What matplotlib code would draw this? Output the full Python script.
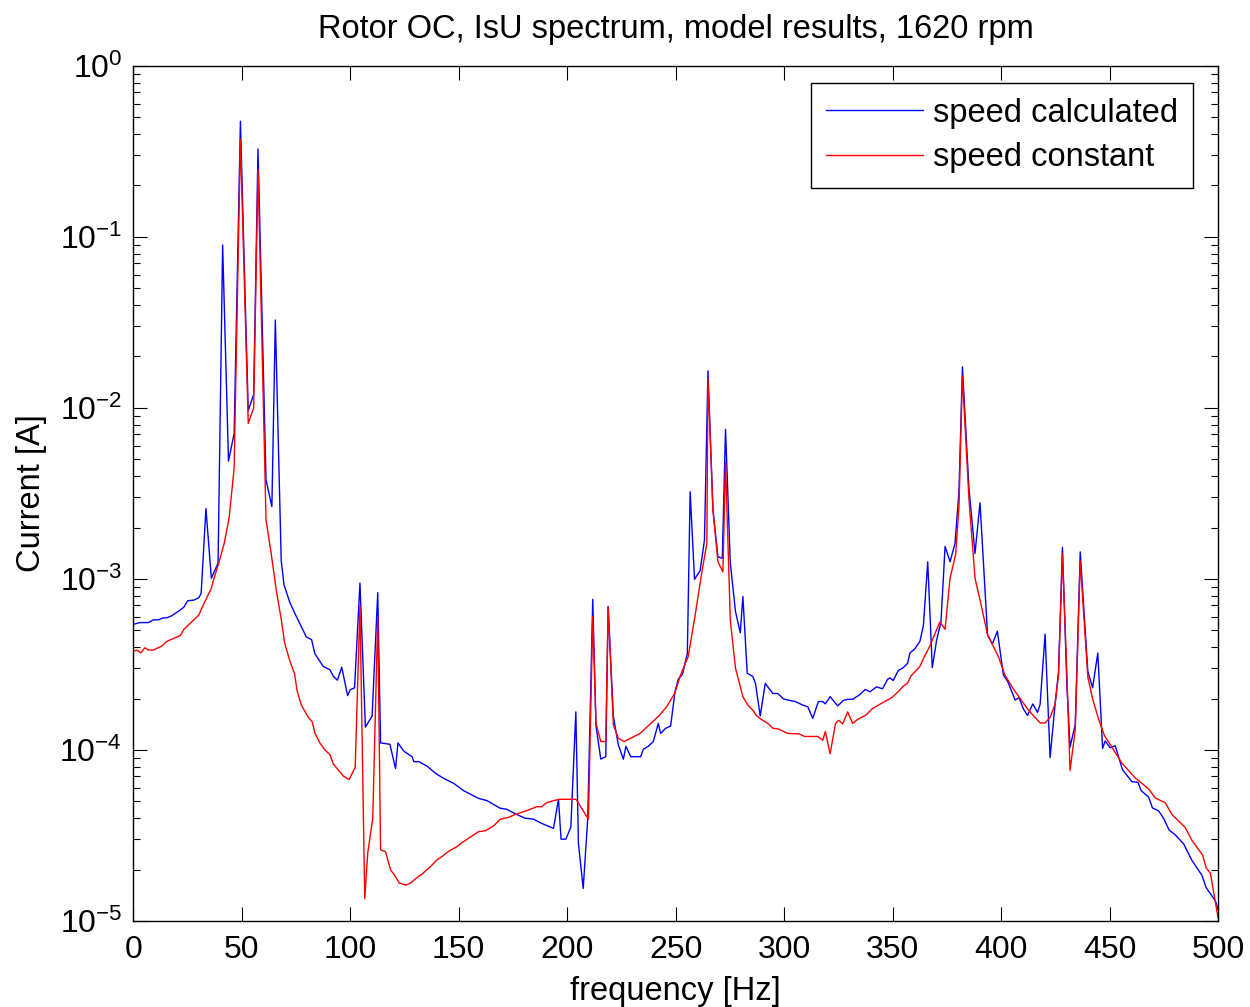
import numpy as np
import matplotlib
matplotlib.use("Agg")
import matplotlib.pyplot as plt
from matplotlib.ticker import LogLocator, FixedLocator

plt.rcParams['font.family'] = ['Liberation Sans', 'DejaVu Sans']
plt.rcParams['mathtext.fontset'] = 'custom'
plt.rcParams['mathtext.rm'] = 'Liberation Sans'
plt.rcParams['mathtext.it'] = 'Liberation Sans'
plt.rcParams['mathtext.bf'] = 'Liberation Sans'

# speed calculated (blue)
freq_calc = [0, 3.1, 7.0, 9.3, 11.6, 14.0, 15.5, 17.8, 21.7, 23.3, 25.1, 27.9, 30.2, 31.3,
             33.5, 36.0, 39.1, 41.2, 43.9, 46.5, 49.4, 53.0, 55.5, 57.5, 61.2, 63.9, 65.5,
             68.2, 69.5, 72.1, 74.4, 77.5, 79.8, 82.2, 83.7, 87.6, 90.7, 92.2, 94.1, 96.1,
             98.8, 100.0, 102.0, 104.5, 107.0, 110.1, 112.7, 114.0, 118.3, 120.9, 122.0,
             124.8, 128.5, 129.3, 131.6, 135.4, 139.3, 143.1, 147.7, 152.3, 159.2, 163.0,
             169.2, 172.2, 176.1, 180.7, 184.5, 188.3, 193.7, 196.0, 197.2, 199.4, 201.7,
             204.0, 205.2, 207.4, 209.5, 211.8, 213.3, 215.5, 217.8, 218.9, 221.3, 223.6,
             225.9, 227.1, 229.3, 233.9, 235.1, 237.4, 239.7, 242.0, 243.1, 245.4, 247.7,
             249.7, 251.2, 253.2, 255.4, 256.7, 258.7, 261.3, 263.3, 264.9, 267.2, 269.5,
             271.5, 273.0, 275.2, 277.6, 279.8, 281.0, 283.0, 285.6, 286.8, 289.0, 291.3,
             294.8, 297.1, 299.7, 302.4, 305.2, 308.6, 310.9, 313.2, 315.8, 317.8, 319.0,
             321.2, 324.7, 327.3, 329.3, 331.6, 334.7, 337.4, 339.6, 342.6, 345.4, 347.7,
             348.8, 350.3, 352.6, 354.9, 356.9, 358.0, 360.3, 362.6, 364.2, 366.2, 368.3,
             370.3, 372.3, 374.2, 376.5, 378.8, 380.6, 382.2, 385.2, 388.0, 390.3, 393.8,
             396.0, 398.3, 401.1, 403.1, 406.5, 408.3, 410.3, 412.2, 414.6, 416.8, 418.0,
             420.3, 422.6, 424.9, 426.5, 428.3, 430.3, 431.8, 434.2, 436.5, 440.0, 442.2,
             444.6, 446.8, 448.0, 450.3, 452.6, 456.0, 460.3, 463.1, 464.6, 468.0, 469.8,
             472.6, 474.9, 477.5, 480.3, 484.2, 488.0, 492.6, 494.5, 498.8, 500.0]
cur_calc = [5.43e-4, 5.56e-4, 5.56e-4, 5.77e-4, 5.77e-4, 5.93e-4, 5.93e-4, 6.10e-4, 6.59e-4,
            6.84e-4, 7.46e-4, 7.52e-4, 7.76e-4, 8.24e-4, 2.58e-3, 1.01e-3, 1.24e-3, 8.97e-2,
            4.89e-3, 7.1e-3, 0.475, 9.64e-3, 1.20e-2, 0.327, 3.80e-3, 2.65e-3, 3.27e-2,
            1.28e-3, 9.25e-4, 7.33e-4, 6.32e-4, 5.26e-4, 4.58e-4, 4.42e-4, 3.66e-4, 3.08e-4,
            2.94e-4, 2.70e-4, 2.56e-4, 3.05e-4, 2.08e-4, 2.25e-4, 2.31e-4, 9.46e-4, 1.36e-4,
            1.58e-4, 8.32e-4, 1.10e-4, 1.08e-4, 7.80e-5, 1.10e-4, 9.82e-5, 9.14e-5, 8.55e-5,
            8.55e-5, 8.05e-5, 7.31e-5, 6.82e-5, 6.38e-5, 5.78e-5, 5.21e-5, 5.06e-5, 4.56e-5,
            4.50e-5, 4.23e-5, 3.99e-5, 3.94e-5, 3.72e-5, 3.48e-5, 5.15e-5, 3.01e-5, 3.01e-5,
            3.53e-5, 1.67e-4, 2.84e-5, 1.55e-5, 3.99e-5, 7.60e-4, 1.38e-4, 8.85e-5, 9.14e-5,
            6.89e-4, 1.57e-4, 1.07e-4, 8.83e-5, 1.05e-4, 9.14e-5, 9.14e-5, 1.01e-4, 1.05e-4,
            1.12e-4, 1.43e-4, 1.25e-4, 1.34e-4, 1.38e-4, 2.19e-4, 2.59e-4, 2.78e-4, 3.67e-4,
            3.24e-3, 9.95e-4, 1.12e-3, 1.69e-3, 1.65e-2, 2.54e-3, 1.35e-3, 1.32e-3, 7.50e-3,
            1.24e-3, 6.44e-4, 4.85e-4, 7.89e-4, 2.81e-4, 2.69e-4, 2.45e-4, 1.58e-4, 2.45e-4,
            2.14e-4, 2.14e-4, 1.99e-4, 1.95e-4, 1.92e-4, 1.83e-4, 1.79e-4, 1.53e-4, 1.92e-4,
            1.92e-4, 1.86e-4, 2.05e-4, 1.81e-4, 1.95e-4, 1.98e-4, 1.98e-4, 2.10e-4, 2.26e-4,
            2.19e-4, 2.34e-4, 2.28e-4, 2.59e-4, 2.64e-4, 2.55e-4, 2.91e-4, 3.03e-4, 3.21e-4,
            3.69e-4, 3.91e-4, 4.32e-4, 5.33e-4, 1.26e-3, 3.03e-4, 4.39e-4, 5.61e-4, 1.55e-3,
            1.26e-3, 1.62e-3, 3.24e-3, 1.74e-2, 3.40e-3, 1.41e-3, 2.79e-3, 4.68e-4, 4.17e-4,
            4.95e-4, 2.74e-4, 2.51e-4, 1.96e-4, 2.02e-4, 1.74e-4, 1.59e-4, 1.86e-4, 1.66e-4,
            1.85e-4, 4.76e-4, 9.02e-5, 1.85e-4, 2.88e-4, 1.53e-3, 2.48e-4, 1.04e-4, 1.41e-4,
            1.44e-3, 2.88e-4, 2.31e-4, 3.69e-4, 1.02e-4, 1.13e-4, 1.03e-4, 1.06e-4, 7.66e-5,
            6.53e-5, 6.47e-5, 5.78e-5, 5.31e-5, 4.58e-5, 4.41e-5, 3.99e-5, 3.40e-5, 3.19e-5,
            2.82e-5, 2.26e-5, 1.85e-5, 1.57e-5, 1.31e-5, 1.17e-5]

# speed constant (red)
freq_const = [0, 1.6, 3.4, 5.4, 7.0, 9.3, 13.2, 15.5, 21.7, 23.3, 30.2, 31.8, 36.0, 36.9,
              39.5, 41.9, 44.2, 46.5, 49.4, 53.0, 55.5, 57.5, 61.2, 63.6, 65.9, 68.2, 69.8,
              72.1, 74.4, 75.5, 77.5, 80.6, 82.5, 83.7, 86.0, 88.4, 90.7, 92.2, 94.6, 96.9,
              99.5, 100.8, 102.3, 104.5, 106.7, 108.1, 110.4, 112.7, 114.0, 116.3, 118.6,
              120.9, 122.5, 125.6, 127.9, 130.2, 133.1, 137.0, 140.0, 142.3, 145.4, 149.2,
              151.5, 156.1, 159.2, 162.3, 166.1, 169.2, 173.0, 176.8, 181.4, 186.0, 188.3,
              190.6, 193.7, 196.8, 204.1, 209.8, 211.8, 213.3, 215.5, 217.8, 218.9, 221.3,
              223.6, 226.3, 233.6, 242.0, 245.9, 249.7, 252.0, 255.8, 258.9, 262.0, 264.4,
              264.9, 267.2, 269.5, 271.8, 273.0, 275.2, 277.6, 281.0, 283.3, 285.6, 287.2,
              289.5, 292.5, 294.8, 297.1, 301.7, 307.1, 309.4, 315.5, 317.8, 319.0, 321.2,
              323.7, 325.2, 327.0, 329.3, 331.6, 333.9, 337.7, 340.8, 345.4, 349.5, 352.6,
              354.9, 356.9, 358.5, 362.6, 364.2, 367.2, 371.8, 374.2, 376.5, 379.1, 380.6,
              382.2, 385.2, 388.0, 390.3, 393.8, 398.8, 401.8, 405.7, 409.5, 412.6, 414.9,
              418.0, 420.3, 422.6, 424.9, 426.5, 428.3, 430.0, 431.8, 434.2, 436.5, 440.0,
              442.2, 445.0, 447.7, 451.1, 455.7, 461.8, 468.0, 471.1, 475.7, 478.8, 484.9,
              488.0, 492.9, 494.5, 496.5, 500.0]
cur_const = [3.78e-4, 3.84e-4, 3.70e-4, 3.96e-4, 3.84e-4, 3.84e-4, 4.06e-4, 4.32e-4, 4.67e-4,
             5.07e-4, 6.15e-4, 6.84e-4, 8.83e-4, 9.77e-4, 1.25e-3, 1.61e-3, 2.28e-3, 4.46e-3,
             0.372, 8.13e-3, 1.0e-2, 0.248, 2.22e-3, 1.40e-3, 8.63e-4, 5.82e-4, 4.21e-4,
             3.34e-4, 2.78e-4, 2.22e-4, 1.83e-4, 1.56e-4, 1.46e-4, 1.26e-4, 1.10e-4, 1.00e-4,
             9.38e-5, 8.28e-5, 7.62e-5, 7.03e-5, 6.71e-5, 7.26e-5, 7.91e-5, 7.00e-4, 1.35e-5,
             2.51e-5, 3.99e-5, 6.0e-4, 2.61e-5, 2.54e-5, 1.99e-5, 1.82e-5, 1.67e-5, 1.62e-5,
             1.67e-5, 1.77e-5, 1.88e-5, 2.08e-5, 2.28e-5, 2.38e-5, 2.56e-5, 2.72e-5, 2.87e-5,
             3.14e-5, 3.33e-5, 3.37e-5, 3.60e-5, 3.94e-5, 4.04e-5, 4.23e-5, 4.42e-5, 4.66e-5,
             4.66e-5, 4.92e-5, 5.06e-5, 5.15e-5, 5.15e-5, 3.94e-5, 6.03e-4, 1.43e-4, 1.12e-4,
             1.12e-4, 6.89e-4, 1.40e-4, 1.17e-4, 1.12e-4, 1.25e-4, 1.57e-4, 1.79e-4, 2.16e-4,
             2.69e-4, 3.52e-4, 6.03e-4, 1.08e-3, 1.62e-3, 1.49e-2, 2.54e-3, 1.26e-3, 1.10e-3,
             4.85e-3, 5.75e-4, 3.01e-4, 2.05e-4, 1.83e-4, 1.71e-4, 1.59e-4, 1.51e-4, 1.43e-4,
             1.34e-4, 1.33e-4, 1.25e-4, 1.24e-4, 1.20e-4, 1.20e-4, 1.14e-4, 1.28e-4, 9.5e-5,
             1.43e-4, 1.49e-4, 1.42e-4, 1.67e-4, 1.43e-4, 1.51e-4, 1.60e-4, 1.75e-4, 1.89e-4,
             2.02e-4, 2.19e-4, 2.36e-4, 2.46e-4, 2.71e-4, 3.08e-4, 3.42e-4, 4.06e-4, 5.61e-4,
             5.08e-4, 1.01e-3, 1.40e-3, 2.66e-3, 1.54e-2, 2.94e-3, 1.01e-3, 7.55e-4, 4.72e-4,
             3.51e-4, 2.74e-4, 2.27e-4, 1.94e-4, 1.71e-4, 1.59e-4, 1.44e-4, 1.44e-4, 1.55e-4,
             1.85e-4, 2.74e-4, 1.40e-3, 3.69e-4, 7.59e-5, 1.31e-4, 1.27e-3, 2.67e-4, 1.99e-4,
             1.51e-4, 1.21e-4, 1.04e-4, 8.38e-5, 6.87e-5, 5.93e-5, 5.24e-5, 4.91e-5, 4.19e-5,
             3.52e-5, 2.96e-5, 2.43e-5, 2.05e-5, 1.90e-5, 1.05e-5]

x_ticks = [0, 50, 100, 150, 200, 250, 300, 350, 400, 450, 500]

fig = plt.figure(figsize=(12.5, 10.07), dpi=100)
ax = fig.add_axes([0.1066, 0.0854, 0.8678, 0.8491])

ax.semilogy(freq_calc, cur_calc, color='#0000ff', linewidth=1.0, label='speed calculated')
ax.semilogy(freq_const, cur_const, color='#ff0000', linewidth=1.0, label='speed constant')

ax.set_xlim(0, 500)
ax.set_ylim(1e-5, 1)
ax.xaxis.set_major_locator(FixedLocator(x_ticks))
ax.yaxis.set_major_locator(LogLocator(base=10, numticks=10))
ax.yaxis.set_minor_locator(LogLocator(base=10, subs=np.arange(2, 10), numticks=50))

ax.tick_params(which='both', direction='in', top=True, right=True, width=0.8, labelsize=23)
ax.tick_params(which='major', length=10, pad=8)
ax.tick_params(axis='x', which='major', pad=10)
ax.tick_params(which='minor', length=5)
for s in ax.spines.values():
    s.set_linewidth(1.0)

ax.set_title('Rotor OC, IsU spectrum, model results, 1620 rpm', fontsize=23.5, pad=20)
ax.set_xlabel('frequency [Hz]', fontsize=23.5, labelpad=8)
ax.set_ylabel('Current [A]', fontsize=23.5, labelpad=9)

leg = ax.legend(loc='upper right', bbox_to_anchor=(0.977, 0.980), borderaxespad=0,
                fontsize=23.5, fancybox=False, edgecolor='black', framealpha=1,
                handlelength=3.0, handletextpad=0.3, borderpad=0.45, labelspacing=0.42)
leg.get_frame().set_linewidth(1.0)

fig.savefig('out.png', dpi=100)
